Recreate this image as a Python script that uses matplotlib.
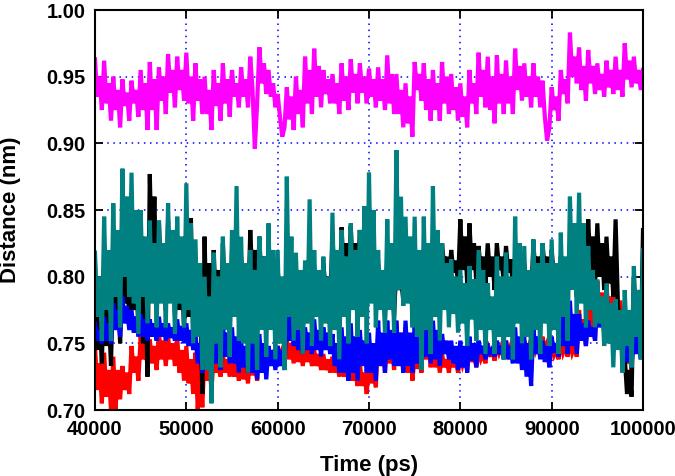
import numpy as np
import matplotlib
matplotlib.use("Agg")
import matplotlib.pyplot as plt

# sample times, 250 ps apart
time_ps = np.arange(40000, 100001, 250)

magenta = [
    .963,.935,.950,.925, .962,.930,.945,.917, .950,.925,.940,.912, .948,.928,.938,.917,
    .947,.930,.940,.920, .955,.925,.945,.910, .961,.925,.948,.910, .957,.932,.950,.922,
    .967,.938,.955,.927, .965,.940,.955,.932, .968,.930,.950,.917, .960,.932,.948,.922,
    .950,.922,.940,.910, .955,.928,.945,.917, .960,.930,.948,.920, .955,.935,.945,.927,
    .957,.935,.948,.927, .965,.940,.896,.930, .972,.945,.960,.937, .955,.935,.945,.927,
    .937,.920,.905,.912, .942,.918,.935,.910, .950,.922,.940,.912, .965,.930,.955,.922,
    .971,.935,.958,.927, .955,.937,.948,.930, .952,.930,.945,.922, .960,.932,.950,.925,
    .963,.938,.952,.930, .960,.938,.950,.930, .956,.935,.948,.927, .957,.932,.948,.925,
    .966,.930,.952,.922, .952,.922,.940,.912, .945,.915,.935,.905, .961,.940,.952,.932,
    .960,.925,.948,.917, .955,.925,.945,.917, .961,.930,.950,.922, .952,.925,.942,.917,
    .945,.920,.935,.912, .955,.930,.945,.922, .968,.935,.955,.927, .965,.925,.950,.915,
    .966,.930,.952,.922, .962,.930,.950,.922, .971,.940,.958,.932, .960,.935,.950,.927,
    .960,.935,.950,.927, .947,.920,.902,.912, .942,.925,.935,.917, .955,.937,.948,.930,
    .983,.950,.965,.945, .972,.940,.958,.932, .970,.945,.958,.937, .960,.940,.952,.935,
    .962,.942,.955,.937, .965,.940,.955,.935, .975,.948,.962,.942, .965,.945,.955,.940,
    .955]

red = [
    .748,.715,.735,.705, .743,.710,.730,.700, .740,.700,.730,.708, .733,.715,.728,.712,
    .748,.728,.740,.722, .755,.738,.750,.732, .753,.735,.748,.730, .758,.738,.752,.733,
    .755,.738,.750,.733, .755,.728,.745,.722, .748,.720,.738,.712, .743,.700,.735,.702,
    .745,.722,.738,.715, .740,.728,.735,.725, .742,.728,.738,.725, .740,.725,.735,.722,
    .738,.723,.733,.720, .740,.726,.735,.722, .742,.735,.740,.732, .745,.738,.742,.735,
    .748,.740,.745,.737, .753,.738,.750,.735, .750,.736,.746,.733, .748,.736,.745,.733,
    .745,.733,.742,.730, .742,.730,.738,.728, .740,.728,.736,.725, .738,.725,.734,.722,
    .735,.722,.730,.718, .735,.718,.728,.712, .738,.720,.732,.717, .757,.733,.750,.728,
    .757,.735,.750,.730, .767,.733,.758,.728, .762,.728,.752,.722, .740,.731,.737,.728,
    .772,.738,.760,.732, .752,.732,.745,.728, .742,.732,.738,.728, .742,.732,.738,.728,
    .742,.734,.740,.730, .747,.736,.743,.732, .745,.738,.742,.735, .750,.740,.746,.737,
    .750,.743,.748,.740, .752,.743,.748,.740, .752,.743,.748,.740, .752,.743,.748,.740,
    .755,.745,.750,.742, .755,.745,.750,.742, .748,.741,.745,.738, .752,.743,.748,.740,
    .752,.743,.748,.740, .775,.752,.768,.748, .792,.758,.782,.752, .797,.765,.788,.758,
    .795,.768,.785,.762, .792,.768,.782,.762, .752,.735,.748,.728, .795,.758,.785,.752,
    .762]

black = [
    .810,.745,.770,.735, .800,.748,.775,.733, .810,.765,.790,.750, .805,.780,.800,.770,
    .820,.775,.805,.760, .830,.750,.800,.725, .877,.800,.860,.780, .842,.790,.825,.775,
    .843,.785,.825,.770, .820,.775,.805,.760, .825,.770,.844,.750, .810,.760,.790,.712,
    .830,.750,.810,.715, .820,.770,.805,.750, .825,.780,.810,.760, .820,.795,.810,.780,
    .815,.785,.805,.770, .835,.795,.820,.780, .830,.790,.815,.770, .810,.798,.805,.790,
    .805,.785,.795,.775, .790,.778,.785,.770, .800,.780,.790,.770, .805,.785,.795,.775,
    .800,.780,.790,.770, .810,.790,.800,.780, .830,.795,.815,.780, .837,.800,.825,.790,
    .838,.800,.825,.790, .835,.800,.820,.790, .820,.790,.810,.780, .810,.780,.800,.770,
    .815,.780,.805,.770, .810,.790,.800,.782, .805,.792,.800,.785, .810,.785,.800,.775,
    .815,.790,.805,.780, .828,.800,.815,.790, .825,.805,.815,.795, .820,.803,.812,.795,
    .843,.805,.830,.795, .840,.805,.825,.795, .823,.803,.815,.795, .825,.800,.815,.790,
    .825,.805,.815,.795, .823,.803,.813,.793, .815,.798,.808,.790, .810,.793,.803,.785,
    .825,.800,.815,.790, .825,.805,.815,.795, .820,.800,.810,.790, .815,.798,.808,.790,
    .820,.795,.810,.785, .830,.800,.820,.790, .843,.805,.830,.795, .840,.800,.825,.790,
    .830,.795,.815,.785, .843,.780,.760,.745, .740,.712,.730,.710, .800,.745,.790,.740,
    .835]

blue = [
    .765,.752,.760,.750, .770,.752,.765,.750, .780,.760,.775,.755, .785,.765,.778,.760,
    .775,.758,.770,.755, .772,.755,.768,.752, .768,.755,.765,.752, .770,.755,.765,.752,
    .765,.754,.762,.752, .768,.752,.763,.750, .765,.748,.760,.745, .758,.735,.750,.728,
    .757,.732,.750,.725, .760,.735,.752,.730, .765,.740,.758,.735, .762,.735,.755,.728,
    .752,.732,.748,.728, .757,.728,.750,.723, .757,.728,.750,.723, .748,.733,.745,.730,
    .748,.733,.745,.730, .780,.752,.770,.748, .765,.745,.760,.742, .762,.745,.758,.742,
    .768,.745,.760,.740, .762,.745,.758,.742, .757,.733,.750,.728, .762,.728,.755,.722,
    .765,.728,.755,.722, .760,.733,.752,.728, .758,.728,.750,.722, .767,.733,.758,.728,
    .767,.738,.760,.733, .767,.733,.758,.728, .767,.733,.758,.728, .765,.735,.758,.730,
    .770,.740,.762,.735, .767,.738,.760,.733, .757,.742,.752,.738, .752,.735,.748,.730,
    .752,.732,.748,.728, .755,.737,.750,.732, .752,.742,.748,.738, .748,.743,.746,.740,
    .752,.742,.748,.738, .752,.738,.748,.735, .762,.735,.755,.730, .755,.725,.750,.718,
    .762,.742,.755,.738, .752,.736,.748,.732, .755,.743,.750,.740, .777,.748,.770,.742,
    .782,.748,.772,.742, .772,.752,.765,.748, .767,.755,.762,.752, .785,.762,.778,.758,
    .787,.768,.780,.765, .772,.756,.765,.752, .752,.736,.748,.732, .762,.742,.755,.738,
    .755]

teal = [
    .818,.770,.800,.752, .845,.775,.820,.752, .855,.785,.835,.762, .881,.800,.860,.785,
    .878,.780,.850,.757, .850,.785,.830,.765, .842,.780,.825,.762, .842,.780,.825,.762,
    .855,.780,.835,.757, .845,.780,.830,.762, .870,.775,.840,.750, .828,.755,.810,.730,
    .800,.730,.785,.705, .818,.750,.800,.732, .830,.760,.810,.740, .835,.770,.868,.752,
    .830,.750,.810,.728, .820,.750,.805,.730, .830,.760,.815,.740, .840,.760,.820,.738,
    .820,.750,.800,.730, .875,.770,.830,.752, .818,.760,.805,.742, .812,.765,.858,.748,
    .820,.770,.805,.752, .815,.765,.800,.748, .848,.760,.820,.738, .835,.770,.815,.750,
    .840,.775,.820,.755, .835,.770,.853,.750, .878,.780,.850,.762, .820,.775,.805,.758,
    .843,.775,.825,.758, .895,.790,.860,.778, .845,.780,.830,.762, .845,.755,.820,.730,
    .845,.760,.825,.742, .868,.770,.835,.752, .825,.775,.810,.762, .813,.772,.800,.758,
    .805,.765,.795,.748, .808,.768,.798,.752, .820,.760,.805,.742, .795,.760,.785,.742,
    .815,.755,.800,.738, .818,.755,.800,.738, .845,.765,.825,.750, .823,.755,.805,.738,
    .828,.760,.810,.742, .825,.765,.810,.748, .828,.760,.810,.742, .833,.770,.815,.752,
    .860,.790,.840,.772, .863,.780,.840,.762, .823,.775,.805,.762, .798,.765,.785,.748,
    .795,.750,.780,.732, .783,.745,.775,.728, .790,.748,.775,.732, .808,.755,.790,.738,
    .820]

series = [
    (magenta, '#FF00FF'),
    (red, '#FF0000'),
    (black, '#000000'),
    (blue, '#0000FF'),
    (teal, '#008080'),
]

plt.rcParams['font.family'] = ['Liberation Sans', 'DejaVu Sans']
plt.rcParams['font.weight'] = 'bold'

fig = plt.figure(figsize=(6.75, 4.76), dpi=100)
ax = fig.add_axes([95/675, 1-410/476, 548/675, 400/476])

for vals, col in series:
    ax.plot(time_ps, vals, color=col, lw=3.0, solid_joinstyle='miter')

ax.set_xlim(40000, 100000)
ax.set_ylim(0.70, 1.00)
ax.set_xticks(np.arange(40000, 100001, 10000))
ax.set_yticks(np.arange(0.70, 1.001, 0.05))
ax.set_yticklabels(['%.2f' % v for v in np.arange(0.70, 1.001, 0.05)])

ax.grid(True, color='#0000FF', linestyle=(0, (1, 3)), lw=1.1)
ax.tick_params(direction='in', length=6, width=1.3, top=True, right=True,
               labelsize=14.5, pad=7)
for lab in ax.get_xticklabels() + ax.get_yticklabels():
    lab.set_fontweight('bold')
for sp in ax.spines.values():
    sp.set_linewidth(1.5)

ax.set_xlabel('Time (ps)', fontsize=16, fontweight='bold', labelpad=12)
ax.set_ylabel('Distance (nm)', fontsize=16, fontweight='bold')
ax.yaxis.set_label_coords(-0.135, 0.5)

fig.savefig('out.png', dpi=100)
